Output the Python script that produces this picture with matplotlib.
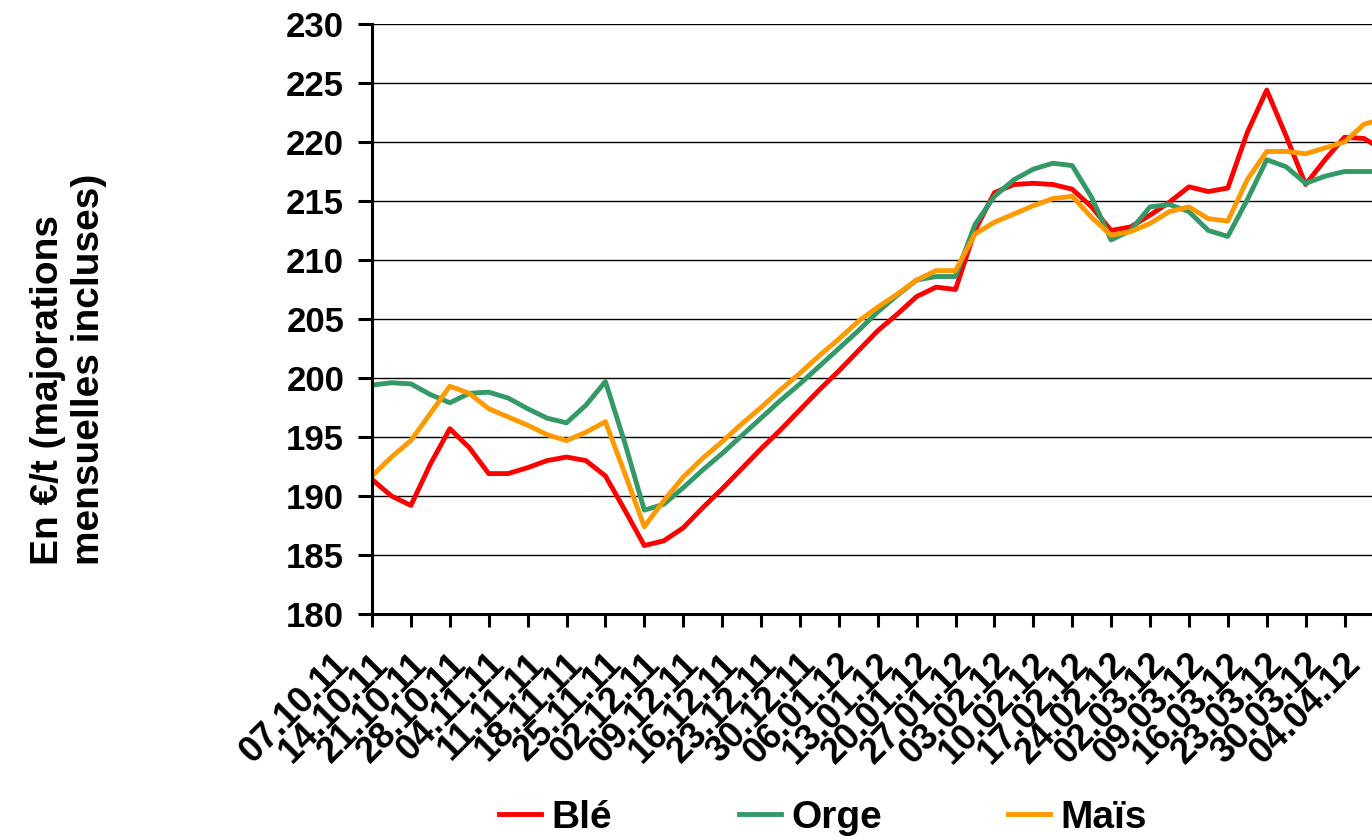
import numpy as np
import matplotlib.pyplot as plt
from matplotlib.transforms import ScaledTranslation

plt.rcParams['font.family'] = ['Liberation Sans', 'DejaVu Sans']
plt.rcParams['font.weight'] = 'bold'

# weekly category labels
dates = ['07.10.11', '14.10.11', '21.10.11', '28.10.11', '04.11.11', '11.11.11',
         '18.11.11', '25.11.11', '02.12.11', '09.12.11', '16.12.11', '23.12.11',
         '30.12.11', '06.01.12', '13.01.12', '20.01.12', '27.01.12', '03.02.12',
         '10.02.12', '17.02.12', '24.02.12', '02.03.12', '09.03.12', '16.03.12',
         '23.03.12', '30.03.12', '04.04.12']

# position in weeks since 07.10.11 (read every half week)
semaines = [0, 0.5, 1, 1.5, 2, 2.5, 3, 3.5, 4, 4.5, 5, 5.5, 6, 6.5, 7, 7.5,
            8, 8.5, 9, 9.5, 10, 10.5, 11, 11.5, 12, 12.5, 13, 13.5, 14, 14.5,
            15, 15.5, 16, 16.5, 17, 17.5, 18, 18.5, 19, 19.5, 20, 20.5, 21,
            21.5, 22, 22.5, 23, 23.5, 24, 24.5, 25, 25.5, 25.7]

ble = [191.4, 190.0, 189.2, 192.7, 195.7, 194.1, 191.9, 191.9, 192.4, 193.0,
       193.3, 193.0, 191.7, 188.8, 185.8, 186.2, 187.3, 189.0, 190.6, 192.3,
       194.0, 195.6, 197.3, 199.0, 200.6, 202.3, 204.0, 205.4, 206.9, 207.7,
       207.5, 212.5, 215.7, 216.4, 216.5, 216.4, 216.0, 214.5, 212.5, 212.8,
       213.8, 214.9, 216.2, 215.8, 216.1, 220.8, 224.4, 220.5, 216.4, 218.5,
       220.4, 220.3, 219.9]

orge = [199.4, 199.6, 199.5, 198.6, 197.9, 198.7, 198.8, 198.3, 197.4, 196.6,
        196.2, 197.7, 199.7, 194.5, 188.8, 189.3, 190.7, 192.2, 193.6, 195.1,
        196.6, 198.1, 199.5, 201.0, 202.5, 204.0, 205.6, 207.0, 208.3, 208.6,
        208.6, 213.0, 215.4, 216.8, 217.7, 218.2, 218.0, 215.3, 211.7, 212.5,
        214.5, 214.7, 214.1, 212.5, 212.0, 215.1, 218.5, 217.9, 216.5, 217.1,
        217.5, 217.5, 217.5]

mais = [191.7, 193.3, 194.7, 197.0, 199.3, 198.7, 197.4, 196.7, 196.0, 195.2,
        194.7, 195.4, 196.3, 191.9, 187.4, 189.6, 191.6, 193.2, 194.6, 196.1,
        197.5, 199.0, 200.4, 201.9, 203.3, 204.8, 206.0, 207.1, 208.3, 209.1,
        209.1, 212.2, 213.2, 213.9, 214.6, 215.2, 215.4, 213.6, 212.1, 212.4,
        213.1, 214.1, 214.5, 213.5, 213.3, 216.8, 219.2, 219.2, 219.0, 219.5,
        220.0, 221.5, 221.7]

fig = plt.figure(figsize=(13.72, 8.36), dpi=100)
# plot area runs past the right edge of the picture (cropped chart)
ax = fig.add_axes([372/1372, 222/836, 26.5*38.9/1372, 590/836])

ax.plot(semaines, ble, color='#FF0000', lw=3.5, label='Blé', solid_joinstyle='round')
ax.plot(semaines, orge, color='#339966', lw=3.5, label='Orge', solid_joinstyle='round')
ax.plot(semaines, mais, color='#FF9900', lw=3.5, label='Maïs', solid_joinstyle='round')

ax.set_xlim(0, 26.5)
ax.set_ylim(180, 230)
ax.set_yticks(range(180, 231, 5))
ax.set_xticks(range(len(dates)))
ax.set_xticklabels(dates, rotation=45, ha='right', va='center', rotation_mode='anchor')

ax.yaxis.grid(True, color='black', lw=1)
ax.set_axisbelow(True)
for s in ['top', 'right']:
    ax.spines[s].set_visible(False)
for s in ['left', 'bottom']:
    ax.spines[s].set_linewidth(2.2)

ax.tick_params(axis='y', length=10, width=2.2, pad=10, labelsize=25)
ax.tick_params(axis='x', length=9.4, width=2.2, pad=0, labelsize=26)
offset = ScaledTranslation(-0.28, -0.32, fig.dpi_scale_trans)
for lab in ax.get_xticklabels():
    lab.set_transform(lab.get_transform() + offset)

fig.text(0.05, 0.324, 'En €/t (majorations\nmensuelles incluses)', rotation=90,
         ha='center', va='bottom', multialignment='left', fontsize=28,
         fontweight='bold', linespacing=1.2)

fig.legend(loc='center', bbox_to_anchor=(0.6, 0.022), ncol=3, frameon=False,
           fontsize=28, handlelength=1.08, handletextpad=0.26, columnspacing=3.26)

plt.savefig('out.png', dpi=100)
